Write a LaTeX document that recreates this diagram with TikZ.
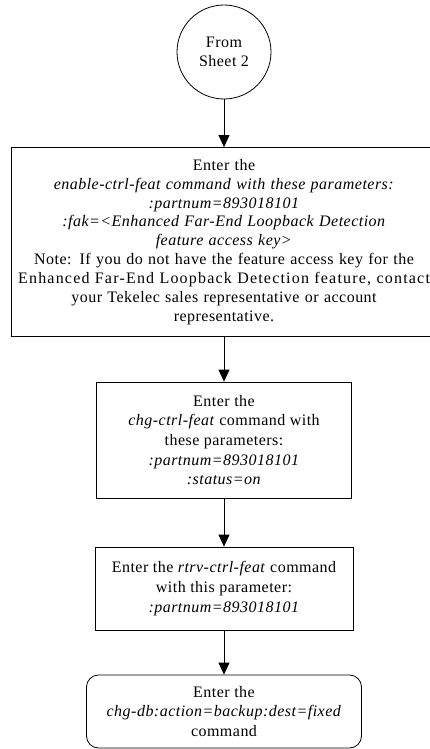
\documentclass[tikz,border=0pt]{standalone}
\usepackage{fontspec}
\setmainfont{Liberation Serif}[LetterSpace=3.0]
\usepackage{tikz}
\usetikzlibrary{arrows.meta,positioning}

\begin{document}
\begin{tikzpicture}[
    x=1pt, y=-1pt,
    sheet/.style={draw=black, circle, minimum size=94pt, inner sep=0pt, align=center, line width=0.8pt},
    cmdbox/.style={draw=black, rectangle, inner sep=0pt, align=center, line width=0.8pt},
    endbox/.style={draw=black, rectangle, rounded corners=12pt, inner sep=0pt, align=center, line width=0.8pt},
    flow/.style={-{Triangle[length=12pt,width=11pt]}, line width=0.8pt},
    every node/.append style={font=\fontsize{16}{19.6}\selectfont}
]
\useasboundingbox (0,0) rectangle (430,749);

\node[sheet] (from) at (224,52) {From\\Sheet 2};

\node[cmdbox, minimum width=426pt, minimum height=189pt, text width=426pt,
      font=\fontsize{16}{18.9}\selectfont] (enable) at (224,242)
  {Enter the\\
   \textit{enable-ctrl-feat command with these parameters:}\\
   \textit{:partnum=893018101}\\
   \textit{:fak=<Enhanced Far-End Loopback Detection}\\
   \textit{feature access key>}\\
   Note: If you do not have the feature access key for the\\
   \makebox[\linewidth]{\addfontfeature{LetterSpace=7.5}Enhanced Far-End Loopback Detection feature, contact}\\
   your Tekelec sales representative or account\\
   representative.};

\node[cmdbox, minimum width=255pt, minimum height=116pt] (chg) at (224,440)
  {Enter the\\
   \textit{chg-ctrl-feat} command with\\
   these parameters:\\
   \textit{:partnum=893018101}\\
   \textit{:status=on}};

\node[cmdbox, minimum width=258pt, minimum height=83pt] (rtrv) at (224,588.5)
  {Enter the \textit{rtrv-ctrl-feat} command\\
   with this parameter:\\
   \textit{:partnum=893018101}};

\node[endbox, minimum width=275pt, minimum height=73pt] (backup) at (224,711.5)
  {Enter the\\
   \textit{chg-db:action=backup:dest=fixed}\\
   command};

\draw[flow] (from) -- (enable);
\draw[flow] (enable) -- (chg);
\draw[flow] (chg) -- (rtrv);
\draw[flow] (rtrv) -- (backup);
\end{tikzpicture}
\end{document}
